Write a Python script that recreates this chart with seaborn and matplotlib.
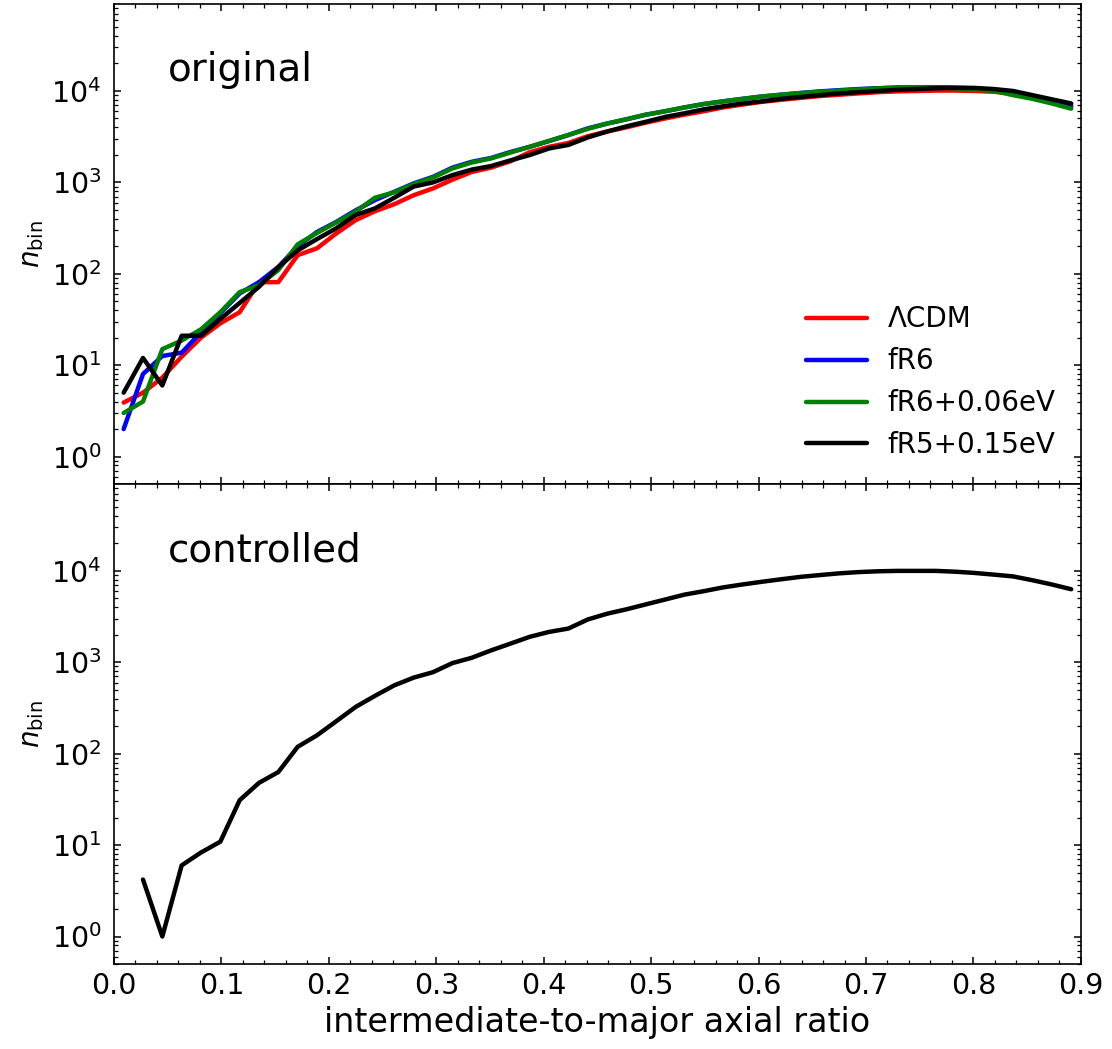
import matplotlib
matplotlib.use('Agg')
import matplotlib.pyplot as plt
from matplotlib.ticker import MultipleLocator, LogLocator, NullFormatter

import seaborn as sns
import numpy as np
import pandas as pd

# bin centres of the intermediate-to-major axial ratio (50 bins over 0-0.9)
ratio = np.arange(0.009, 0.9, 0.018)

models = ['ΛCDM', 'fR6', 'fR6+0.06eV', 'fR5+0.15eV']
colors = ['red', 'blue', 'green', 'black']

n_lcdm = [3.9, 5, 7.3, 12.4, 20, 28.7, 38, 81, 81, 160,
          190, 277, 386, 484, 578, 724, 860, 1070, 1300, 1450,
          1700, 2140, 2450, 2700, 3200, 3600, 4000, 4500, 5000, 5500,
          6000, 6600, 7100, 7600, 8000, 8400, 8800, 9100, 9400, 9700,
          9900, 10000, 10100, 10100, 10000, 9800, 9400, 8800, 8000, 7000]
n_fr6 = [2, 8, 12.6, 13.7, 23, 37, 61, 81, 119, 200,
         287, 370, 495, 640, 790, 975, 1150, 1450, 1680, 1850,
         2150, 2450, 2830, 3300, 3900, 4400, 4900, 5500, 6000, 6600,
         7200, 7700, 8200, 8700, 9100, 9500, 9900, 10200, 10500, 10700,
         10900, 11000, 11000, 10900, 10700, 10300, 9700, 8700, 7600, 6700]
n_fr6_nu = [3, 4, 15, 18.6, 24.7, 38, 63, 75, 110, 210,
            280, 365, 480, 680, 780, 960, 1130, 1420, 1650, 1830,
            2120, 2450, 2850, 3300, 3850, 4400, 4900, 5500, 6000, 6600,
            7200, 7700, 8200, 8700, 9100, 9500, 9800, 10100, 10400, 10700,
            10900, 11000, 10900, 10700, 10400, 10000, 9000, 8200, 7300, 6400]
n_fr5_nu = [5, 12, 6, 21, 21, 32, 48, 72, 118, 180,
            240, 315, 440, 520, 680, 900, 1000, 1200, 1380, 1510,
            1740, 1990, 2350, 2570, 3100, 3600, 4100, 4600, 5200, 5700,
            6300, 6800, 7300, 7700, 8200, 8600, 9000, 9400, 9700, 10000,
            10300, 10500, 10700, 10800, 10800, 10500, 10000, 9000, 8100, 7300]

# controlled sample, first bin empty
n_controlled = [4.2, 1.0, 6.0, 8.3, 10.9, 31, 48, 63, 119,
                159, 227, 325, 430, 560, 680, 780, 980, 1120, 1350,
                1600, 1900, 2150, 2340, 2940, 3400, 3800, 4300, 4860, 5500,
                6000, 6600, 7100, 7600, 8100, 8600, 9000, 9400, 9700, 9900,
                10000, 10000, 10000, 9800, 9500, 9100, 8700, 7900, 7100, 6300]

original = pd.DataFrame({
    'ratio': np.tile(ratio, 4),
    'n': n_lcdm + n_fr6 + n_fr6_nu + n_fr5_nu,
    'model': np.repeat(models, len(ratio)),
})
controlled = pd.DataFrame({'ratio': ratio[1:], 'n': n_controlled})

sns.set_style('ticks')
plt.rcParams['font.family'] = ['DejaVu Sans']
plt.rcParams['text.color'] = 'black'
plt.rcParams['axes.labelcolor'] = 'black'
plt.rcParams['axes.edgecolor'] = 'black'
plt.rcParams['xtick.color'] = 'black'
plt.rcParams['ytick.color'] = 'black'
plt.rcParams['xtick.direction'] = 'in'
plt.rcParams['ytick.direction'] = 'in'
plt.rcParams['xtick.top'] = True
plt.rcParams['ytick.right'] = True
plt.rcParams['axes.linewidth'] = 1.2

fig, axes = plt.subplots(2, 1, figsize=(11.12, 10.49), dpi=100, sharex=True)
fig.subplots_adjust(left=0.1025, right=0.972, top=0.996, bottom=0.081, hspace=0)

sns.lineplot(data=original, x='ratio', y='n', hue='model', hue_order=models,
             palette=colors, linewidth=3.2, ax=axes[0])
sns.lineplot(data=controlled, x='ratio', y='n', color='black', linewidth=3.2, ax=axes[1])

for ax, name in zip(axes, ['original', 'controlled']):
    ax.set_yscale('log')
    ax.set_ylim(0.5, 8.9e4)
    ax.set_xlim(0, 0.9)
    ax.xaxis.set_major_locator(MultipleLocator(0.1))
    ax.xaxis.set_minor_locator(MultipleLocator(0.02))
    ax.yaxis.set_major_locator(LogLocator(base=10, numticks=10))
    ax.yaxis.set_minor_locator(LogLocator(base=10, subs=np.arange(2, 10), numticks=20))
    ax.yaxis.set_minor_formatter(NullFormatter())
    ax.tick_params(which='major', length=5, width=1.1, labelsize=20.5, top=True, right=True)
    ax.tick_params(which='minor', length=3, width=0.9, top=True, right=True)
    ax.tick_params(axis='y', which='major', pad=9)
    ax.tick_params(axis='x', which='major', pad=6)
    ax.set_ylabel(r'$n_{\rm bin}$', fontsize=20)
    ax.set_xlabel('')
    ax.text(0.056, 0.862, name, transform=ax.transAxes, fontsize=28,
            ha='left', va='center')

axes[0].tick_params(labelbottom=False)
axes[1].set_xlabel('intermediate-to-major axial ratio', fontsize=24)
axes[0].legend(loc='lower right', frameon=False, fontsize=20, handlelength=2.2,
               handletextpad=0.75)

plt.savefig('out.png', dpi=100)
